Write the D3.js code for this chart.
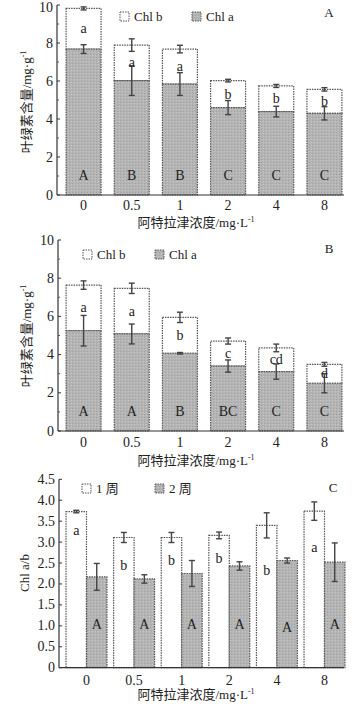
<!DOCTYPE html>
<html><head><meta charset="utf-8">
<script src="https://cdn.jsdelivr.net/npm/d3@7/dist/d3.min.js"></script>
<style>
body{margin:0;background:#fff;}
svg text{font-family:"Liberation Serif","Noto Sans CJK SC",serif;fill:#222;}
</style></head>
<body><svg id="c" width="357" height="704"></svg>
<script>
// ---- data ----
const conc = ["0","0.5","1","2","4","8"];
// Panel A (1 week)
const aChlA = [7.68, 6.02, 5.84, 4.60, 4.39, 4.30];
const aChlAErr = [0.23, 0.78, 0.60, 0.37, 0.28, 0.35];
const aTotal = [9.82, 7.89, 7.68, 6.02, 5.74, 5.56];
const aTotalErr = [0.08, 0.33, 0.20, 0.07, 0.08, 0.09];
const aLower = ["a","a","a","b","b","b"];
const aUpper = ["A","B","B","C","C","C"];
// Panel B (2 weeks)
const bChlA = [5.25, 5.08, 4.07, 3.40, 3.11, 2.50];
const bChlAErr = [0.80, 0.52, 0.04, 0.32, 0.40, 0.50];
const bTotal = [7.64, 7.47, 5.95, 4.71, 4.35, 3.49];
const bTotalErr = [0.22, 0.27, 0.27, 0.16, 0.20, 0.10];
const bLower = ["a","a","b","c","cd","d"];
const bUpper = ["A","A","B","BC","C","C"];
// Panel C (Chl a/b)
const cWeek1 = [3.73, 3.11, 3.11, 3.16, 3.40, 3.74];
const cWeek1Err = [0.03, 0.12, 0.12, 0.08, 0.30, 0.22];
const cWeek2 = [2.17, 2.12, 2.25, 2.43, 2.56, 2.52];
const cWeek2Err = [0.32, 0.10, 0.31, 0.10, 0.06, 0.46];
const cLetter1 = ["a","b","b","b","b","a"];
const cLetter1Y = [3.27, 2.43, 2.57, 2.62, 2.33, 2.88];
const cLetter2 = ["A","A","A","A","A","A"];
const cLetter2Y = [1.04, 1.04, 1.04, 1.04, 0.98, 1.04];
const yTicksAB = [0,2,4,6,8,10];
const yTicksC = [0,0.5,1.0,1.5,2.0,2.5,3.0,3.5,4.0,4.5];

const svg = d3.select("#c");
const GRAY = "#b4b4b4", EDGE = "#555", ERR = "#444";

// texture pattern
const defs = svg.append("defs");
const pat = defs.append("pattern").attr("id","hatch").attr("patternUnits","userSpaceOnUse").attr("width",3).attr("height",3);
pat.append("rect").attr("width",3).attr("height",3).attr("fill",GRAY);
pat.append("rect").attr("x",0).attr("y",0).attr("width",1).attr("height",1).attr("fill","#a2a2a2");
pat.append("rect").attr("x",2).attr("y",1).attr("width",1).attr("height",1).attr("fill","#c6c6c6");

function yAxis(g, y, x0, ticks, minor, fmt){
  const ax = g.append("g").attr("transform",`translate(${x0},0)`);
  ax.append("line").attr("x1",0).attr("x2",0).attr("y1",y.range()[0]).attr("y2",y.range()[1]).attr("stroke","#333").attr("stroke-width",1.2);
  ax.selectAll(".mj").data(ticks).join("line").attr("x1",0).attr("x2",3).attr("y1",d=>y(d)).attr("y2",d=>y(d)).attr("stroke","#333");
  ax.selectAll(".mn").data(minor).join("line").attr("x1",0).attr("x2",2).attr("y1",d=>y(d)).attr("y2",d=>y(d)).attr("stroke","#555");
  ax.selectAll(".tl").data(ticks).join("text").attr("x",-4).attr("y",d=>Math.max(y(d)+4.5, 12)).attr("text-anchor","end").attr("font-size",14).text(fmt);
}
function xAxis(g, x, y0, x0, x1, labelY, titleY){
  g.append("line").attr("x1",x0).attr("x2",x1).attr("y1",y0).attr("y2",y0).attr("stroke","#333").attr("stroke-width",1.2);
  g.selectAll(".xl").data(conc).join("text").attr("x",d=>x(d)+x.bandwidth()/2).attr("y",labelY).attr("text-anchor","middle").attr("font-size",14).text(d=>d);
  const t = g.append("text").attr("x",196).attr("y",titleY).attr("text-anchor","middle").attr("font-size",13);
  t.append("tspan").text("阿特拉津浓度/mg·L");
  t.append("tspan").attr("font-size",8).attr("dy",-5).text("-1");
}
function errBar(g, cx, y, v, e, cap){
  g.append("line").attr("x1",cx).attr("x2",cx).attr("y1",y(v+e)).attr("y2",y(v-e)).attr("stroke",ERR).attr("stroke-width",1.4);
  [v+e, v-e].forEach(t=>g.append("line").attr("x1",cx-cap).attr("x2",cx+cap).attr("y1",y(t)).attr("y2",y(t)).attr("stroke",ERR).attr("stroke-width",1.4));
}
function bar(g, x0, w, yTop, yBot, fill){
  g.append("rect").attr("x",x0).attr("y",yTop).attr("width",w).attr("height",yBot-yTop)
   .attr("fill",fill).attr("stroke",EDGE).attr("stroke-width",1.2).attr("stroke-dasharray","1.5,1");
}
function legend(g, items, y){
  items.forEach(it=>{
    g.append("rect").attr("x",it.x).attr("y",y).attr("width",9).attr("height",9).attr("fill",it.fill).attr("stroke",EDGE).attr("stroke-dasharray","1.5,1");
    g.append("text").attr("x",it.x+14).attr("y",y+9).attr("font-size",13).text(it.t);
  });
}
function yTitleCN(g, cx, cy){
  const t = g.append("text").attr("transform",`translate(${cx},${cy}) rotate(-90)`).attr("text-anchor","middle").attr("font-size",13);
  t.append("tspan").text("叶绿素含量/mg·g");
  t.append("tspan").attr("font-size",8).attr("dy",-5).text("-1");
}

function stacked(cfg){
  const g = svg.append("g");
  const y = d3.scaleLinear().domain([0,10]).range([cfg.y0, cfg.y10]);
  const x = d3.scaleBand().domain(conc).range([59.5, 348.5]).paddingInner(0.274).paddingOuter(0.137);
  conc.forEach((c,i)=>{
    const bx = x(c), w = x.bandwidth(), cx = bx + w/2;
    bar(g, bx, w, y(cfg.total[i]), y(cfg.chla[i]), "#fff");
    bar(g, bx, w, y(cfg.chla[i]), y(0), "url(#hatch)");
    errBar(g, cx, y, cfg.total[i], cfg.totalErr[i], 3);
    errBar(g, cx, y, cfg.chla[i], cfg.chlaErr[i], 3);
    g.append("text").attr("x",cx).attr("y",y((cfg.chla[i]+cfg.total[i])/2)+4.5).attr("text-anchor","middle").attr("font-size",14).text(cfg.lower[i]);
    g.append("text").attr("x",cx).attr("y",y(1.05)+5).attr("text-anchor","middle").attr("font-size",14).text(cfg.upper[i]);
  });
  yAxis(g, y, cfg.ax, yTicksAB, [1,3,5,7,9], d=>d);
  xAxis(g, x, y(0), cfg.ax, 344, cfg.labelY, cfg.titleY);
  legend(g, cfg.legend, cfg.legY);
  g.append("text").attr("x",cfg.tagX).attr("y",cfg.tagY).attr("text-anchor","middle").attr("font-size",13).text(cfg.tag);
  yTitleCN(g, 31, cfg.yTitleY);
}

stacked({chla:aChlA, chlaErr:aChlAErr, total:aTotal, totalErr:aTotalErr, lower:aLower, upper:aUpper,
  y0:195, y10:5, ax:57, labelY:210, titleY:227, legY:12,
  legend:[{x:120,fill:"#fff",t:"Chl b"},{x:192,fill:"url(#hatch)",t:"Chl a"}],
  tag:"A", tagX:329, tagY:17, yTitleY:102});
stacked({chla:bChlA, chlaErr:bChlAErr, total:bTotal, totalErr:bTotalErr, lower:bLower, upper:bUpper,
  y0:431, y10:240, ax:58, labelY:447, titleY:465, legY:250,
  legend:[{x:83,fill:"#fff",t:"Chl b"},{x:155,fill:"url(#hatch)",t:"Chl a"}],
  tag:"B", tagX:329, tagY:253, yTitleY:336});

// Panel C
(function(){
  const g = svg.append("g");
  const y = d3.scaleLinear().domain([0,4.5]).range([667.7, 479.3]);
  const x = d3.scaleBand().domain(conc).range([62.7, 348.3]).paddingInner(0.14).paddingOuter(0.07);
  const xs = d3.scaleBand().domain(["w1","w2"]).range([0, x.bandwidth()]);
  conc.forEach((c,i)=>{
    const b1 = x(c)+xs("w1"), b2 = x(c)+xs("w2"), w = xs.bandwidth();
    bar(g, b1, w, y(cWeek1[i]), y(0), "#fff");
    bar(g, b2, w, y(cWeek2[i]), y(0), "url(#hatch)");
    errBar(g, b1+w/2, y, cWeek1[i], cWeek1Err[i], 3);
    errBar(g, b2+w/2, y, cWeek2[i], cWeek2Err[i], 3);
    g.append("text").attr("x",b1+w/2).attr("y",y(cLetter1Y[i])+4.5).attr("text-anchor","middle").attr("font-size",14).text(cLetter1[i]);
    g.append("text").attr("x",b2+w/2).attr("y",y(cLetter2Y[i])+5).attr("text-anchor","middle").attr("font-size",14).text(cLetter2[i]);
  });
  yAxis(g, y, 59, yTicksC, [], d=> d===0 ? "0" : d3.format(".1f")(d));
  xAxis(g, x, y(0), 59, 344, 685, 699);
  legend(g, [{x:82,fill:"#fff",t:"1 周"},{x:155,fill:"url(#hatch)",t:"2 周"}], 484);
  g.append("text").attr("x",333).attr("y",492).attr("text-anchor","middle").attr("font-size",13).text("C");
  g.append("text").attr("transform",`translate(29,573) rotate(-90)`).attr("text-anchor","middle").attr("font-size",13).text("Chl a/b");
})();
</script></body></html>
